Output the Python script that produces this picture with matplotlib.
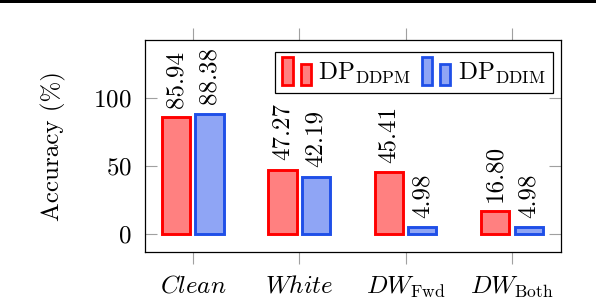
import matplotlib
matplotlib.use('Agg')
import matplotlib.pyplot as plt
from matplotlib.patches import Rectangle
from matplotlib.legend_handler import HandlerBase
import numpy as np

categories = [r'$Clean$', r'$White$', r'$DW_{\mathrm{Fwd}}$', r'$DW_{\mathrm{Both}}$']
ddpm = [85.94, 47.27, 45.41, 16.80]
ddim = [88.38, 42.19, 4.98, 4.98]
series_names = [r'$\mathrm{DP}_{\mathrm{DDPM}}$', r'$\mathrm{DP}_{\mathrm{DDIM}}$']
yticks = [0, 50, 100]

plt.rcParams['font.family'] = 'cmr10'
plt.rcParams['mathtext.fontset'] = 'cm'
plt.rcParams['axes.formatter.use_mathtext'] = True
plt.rcParams['font.size'] = 18

red_edge, red_fill = '#ff0000', '#ff8080'
blue_edge, blue_fill = '#1f4fe8', '#8fa5f5'


class TwoBarHandler(HandlerBase):
    # pgfplots-style ybar legend image: two small bars
    def create_artists(self, legend, orig_handle, xdescent, ydescent,
                       width, height, fontsize, trans):
        fc = orig_handle.get_facecolor()
        ec = orig_handle.get_edgecolor()
        w = width * 0.36
        x0 = -xdescent
        y0 = -ydescent - 0.15 * height
        r1 = Rectangle((x0, y0), w, height * 1.25, facecolor=fc,
                       edgecolor=ec, linewidth=2, transform=trans)
        r2 = Rectangle((x0 + width - w, y0), w, height * 0.95, facecolor=fc,
                       edgecolor=ec, linewidth=2, transform=trans)
        return [r1, r2]


fig = plt.figure(figsize=(5.96, 3.0), dpi=100)
ax = fig.add_axes([0.2433, 0.16, 0.6980, 0.7067])

x = np.arange(len(categories))
bw = 0.265
off = 0.157
b1 = ax.bar(x - off, ddpm, bw, color=red_fill, edgecolor=red_edge, linewidth=2.1)
b2 = ax.bar(x + off, ddim, bw, color=blue_fill, edgecolor=blue_edge, linewidth=2.1)

for bars, vals in [(b1, ddpm), (b2, ddim)]:
    for rect, v in zip(bars, vals):
        ax.annotate('%.2f' % v, (rect.get_x() + rect.get_width() / 2, v),
                    xytext=(0, 7), textcoords='offset points',
                    rotation=90, ha='center', va='bottom', fontsize=18)

ax.set_xlim(-0.45, 3.46)
ax.set_ylim(-13.2, 143)
ax.set_xticks(x)
ax.set_xticklabels(categories)
ax.set_yticks(yticks)
ax.tick_params(axis='x', direction='out', length=8.5, width=0.8,
               color='#a0a0a0', top=True, bottom=True, pad=8)
ax.tick_params(axis='y', direction='in', length=8.5, width=0.8,
               color='#a0a0a0', left=True, right=True, pad=9.5)
for s in ax.spines.values():
    s.set_linewidth(0.9)
ax.set_ylabel('Accuracy (%)', labelpad=20)

h1 = Rectangle((0, 0), 1, 1, facecolor=red_fill, edgecolor=red_edge)
h2 = Rectangle((0, 0), 1, 1, facecolor=blue_fill, edgecolor=blue_edge)
leg = ax.legend([h1, h2], series_names, ncol=2, loc='upper right',
                bbox_to_anchor=(0.981, 0.943), borderaxespad=0,
                handler_map={Rectangle: TwoBarHandler()},
                handlelength=1.15, handleheight=1.0, handletextpad=0.3,
                columnspacing=0.4, borderpad=0.3, fancybox=False,
                framealpha=1, edgecolor='black', fontsize=18)
leg.get_frame().set_linewidth(0.9)

# black rule along the top edge
fig.add_artist(Rectangle((0, 297 / 300), 1, 3 / 300, transform=fig.transFigure,
                         facecolor='black', edgecolor='none'))

fig.savefig('out.png', dpi=100)
